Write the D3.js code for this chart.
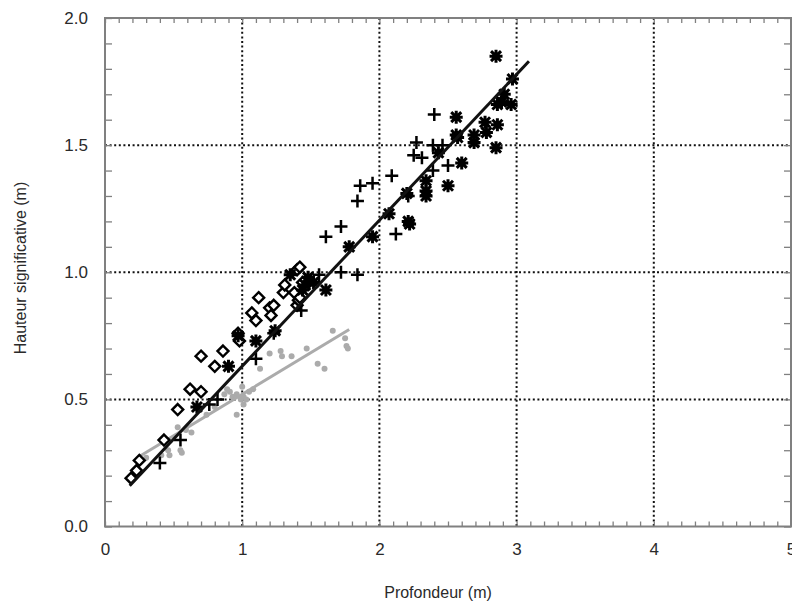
<!DOCTYPE html>
<html>
<head>
<meta charset="utf-8">
<script src="https://cdn.jsdelivr.net/npm/d3@7"></script>
<style>
  body { margin: 0; background: #fff; }
  svg { display: block; font-family: "Liberation Sans", Arial, sans-serif; }
</style>
</head>
<body>
<div id="chart"></div>
<script>
// valeurs : [profondeur (m), hauteur significative (m)]
const losanges = [
  [0.19,0.19],[0.23,0.22],[0.25,0.26],[0.43,0.34],[0.53,0.46],[0.62,0.54],[0.70,0.53],
  [0.70,0.67],[0.80,0.63],[0.86,0.69],[0.97,0.76],[0.98,0.73],[1.07,0.84],[1.10,0.81],
  [1.12,0.90],[1.20,0.86],[1.21,0.83],[1.23,0.87],[1.30,0.92],[1.31,0.95],[1.38,0.92],
  [1.40,0.87],[1.41,0.89],[1.42,0.90],[1.40,1.01],[1.42,1.02],[1.44,0.96]
]
const croix = [
  [0.40,0.25],[0.55,0.34],[0.76,0.48],[0.82,0.50],[1.10,0.66],[1.23,0.76],[1.43,0.85],
  [1.56,0.99],[1.61,1.14],[1.72,1.18],[1.72,1.00],[1.84,0.99],[1.84,1.28],[1.86,1.34],
  [1.95,1.35],[2.09,1.38],[2.12,1.15],[2.21,1.30],[2.25,1.46],[2.27,1.51],[2.31,1.45],
  [2.39,1.40],[2.39,1.50],[2.40,1.62],[2.46,1.50],[2.50,1.42]
]
const etoiles = [
  [0.67,0.47],[0.90,0.63],[0.97,0.75],[1.10,0.73],[1.24,0.77],[1.35,0.99],[1.44,0.93],
  [1.46,0.95],[1.48,0.98],[1.52,0.96],[1.61,0.93],[1.78,1.10],[1.95,1.14],[2.07,1.23],
  [2.20,1.31],[2.21,1.20],[2.22,1.19],[2.34,1.36],[2.34,1.32],[2.34,1.30],[2.43,1.47],
  [2.50,1.34],[2.56,1.61],[2.57,1.53],[2.56,1.54],[2.60,1.43],[2.69,1.54],[2.69,1.51],
  [2.77,1.59],[2.78,1.55],[2.85,1.85],[2.85,1.49],[2.86,1.58],[2.86,1.66],[2.89,1.67],
  [2.91,1.70],[2.96,1.66],[2.97,1.76]
]
const points = [
  [0.30,0.27],[0.41,0.28],[0.46,0.30],[0.47,0.28],[0.53,0.39],[0.55,0.30],[0.56,0.29],
  [0.59,0.38],[0.63,0.37],[0.74,0.44],[0.80,0.47],[0.87,0.52],[0.89,0.54],[0.91,0.53],
  [0.93,0.51],[0.96,0.52],[0.96,0.44],[0.99,0.50],[1.00,0.55],[1.01,0.51],[1.01,0.48],
  [1.03,0.50],[1.05,0.53],[1.08,0.54],[1.13,0.62],[1.20,0.68],[1.28,0.69],[1.29,0.67],
  [1.36,0.67],[1.47,0.70],[1.55,0.64],[1.60,0.62],[1.66,0.77],[1.75,0.74],[1.76,0.71],
  [1.77,0.70]
]
// droites d'ajustement (extremites)
const droiteNoire = [[0.18,0.16],[3.09,1.83]]
const droiteGrise = [[0.25,0.275],[1.78,0.775]]

const xTicks = [0,1,2,3,4,5]
const yTicks = [0.0,0.5,1.0,1.5,2.0]

const W = 792, H = 603
const svg = d3.select("#chart").append("svg")
  .attr("width", W)
  .attr("height", H)

const x = d3.scaleLinear().domain([0,5]).range([105,791])
const y = d3.scaleLinear().domain([0,2]).range([526.5,18])

const minX = d3.range(0,51).map(d => d/10)
const minY = d3.range(0,21).map(d => d/10)

// grille pointillee
svg.append("g").selectAll("line")
  .data(xTicks.slice(1,5))
  .enter().append("line")
  .attr("x1", d => x(d)).attr("x2", d => x(d))
  .attr("y1", y(2)).attr("y2", y(0))
  .attr("stroke", "#111").attr("stroke-width", 2)
  .attr("stroke-dasharray", "2,2.6")

svg.append("g").selectAll("line")
  .data(yTicks.slice(1,4))
  .enter().append("line")
  .attr("x1", x(0)).attr("x2", x(5))
  .attr("y1", d => y(d)).attr("y2", d => y(d))
  .attr("stroke", "#111").attr("stroke-width", 2)
  .attr("stroke-dasharray", "2,2.6")

// cadre + graduations vers l'interieur
function styleAxe(g) {
  g.select(".domain").remove()
  g.selectAll(".tick line").attr("stroke", "#808080").attr("stroke-width", 1.3)
}
svg.append("g").attr("transform", `translate(0,${y(0)})`)
  .call(d3.axisBottom(x).tickValues(minX).tickSize(-5).tickFormat(""))
  .call(styleAxe)
svg.append("g").attr("transform", `translate(0,${y(2)})`)
  .call(d3.axisTop(x).tickValues(minX).tickSize(-5).tickFormat(""))
  .call(styleAxe)
svg.append("g").attr("transform", `translate(${x(0)},0)`)
  .call(d3.axisLeft(y).tickValues(minY).tickSize(-7).tickFormat(""))
  .call(styleAxe)
svg.append("g").attr("transform", `translate(${x(5)},0)`)
  .call(d3.axisRight(y).tickValues(minY).tickSize(-7).tickFormat(""))
  .call(styleAxe)

svg.append("rect")
  .attr("x", x(0)).attr("y", y(2))
  .attr("width", x(5)-x(0)).attr("height", y(0)-y(2))
  .attr("fill", "none").attr("stroke", "#808080").attr("stroke-width", 2)

// etiquettes
let axeX = svg.append("g").attr("transform", `translate(0,${y(0)})`)
  .call(d3.axisBottom(x).tickValues(xTicks).tickSize(0).tickPadding(16).tickFormat(d3.format("d")))
axeX.select(".domain").remove()
axeX.selectAll("text").style("font-size", "17px").attr("fill", "#2a2a2a")
  .style("font-family", "Liberation Sans, Arial, sans-serif")

let axeY = svg.append("g").attr("transform", `translate(${x(0)},0)`)
  .call(d3.axisLeft(y).tickValues(yTicks).tickSize(0).tickPadding(17).tickFormat(d3.format(".1f")))
axeY.select(".domain").remove()
axeY.selectAll("text").style("font-size", "17px").attr("fill", "#2a2a2a")
  .style("font-family", "Liberation Sans, Arial, sans-serif")

svg.append("text")
  .attr("x", 438).attr("y", 598)
  .attr("text-anchor", "middle")
  .style("font-size", "16px").attr("fill", "#2a2a2a")
  .text("Profondeur (m)")

svg.append("text")
  .attr("transform", `translate(26,268) rotate(-90)`)
  .attr("text-anchor", "middle")
  .style("font-size", "16px").attr("fill", "#2a2a2a")
  .text("Hauteur significative (m)")

// points gris
svg.append("g").selectAll("circle")
  .data(points)
  .enter().append("circle")
  .attr("cx", d => x(d[0])).attr("cy", d => y(d[1]))
  .attr("r", 3)
  .attr("fill", "#ababab")

// droite grise
const ligne = d3.line().x(d => x(d[0])).y(d => y(d[1]))
svg.append("path")
  .attr("d", ligne(droiteGrise))
  .attr("fill", "none").attr("stroke", "#ababab").attr("stroke-width", 3)

// losanges
const s = 5.5
svg.append("g").selectAll("path")
  .data(losanges)
  .enter().append("path")
  .attr("transform", d => `translate(${x(d[0])},${y(d[1])})`)
  .attr("d", `M0,${-s}L${s},0L0,${s}L${-s},0Z`)
  .attr("fill", "#fff").attr("stroke", "#000").attr("stroke-width", 2.4)

// croix
const c = 6.5
svg.append("g").selectAll("path")
  .data(croix)
  .enter().append("path")
  .attr("transform", d => `translate(${x(d[0])},${y(d[1])})`)
  .attr("d", `M${-c},0H${c}M0,${-c}V${c}`)
  .attr("stroke", "#000").attr("stroke-width", 2.5)

// etoiles
const e = 6.5, e2 = 5
svg.append("g").selectAll("path")
  .data(etoiles)
  .enter().append("path")
  .attr("transform", d => `translate(${x(d[0])},${y(d[1])})`)
  .attr("d", `M${-e},0H${e}M0,${-e}V${e}M${-e2},${-e2}L${e2},${e2}M${-e2},${e2}L${e2},${-e2}`)
  .attr("stroke", "#000").attr("stroke-width", 3)

// droite noire
svg.append("path")
  .attr("d", ligne(droiteNoire))
  .attr("fill", "none").attr("stroke", "#111").attr("stroke-width", 3)
</script>
</body>
</html>
